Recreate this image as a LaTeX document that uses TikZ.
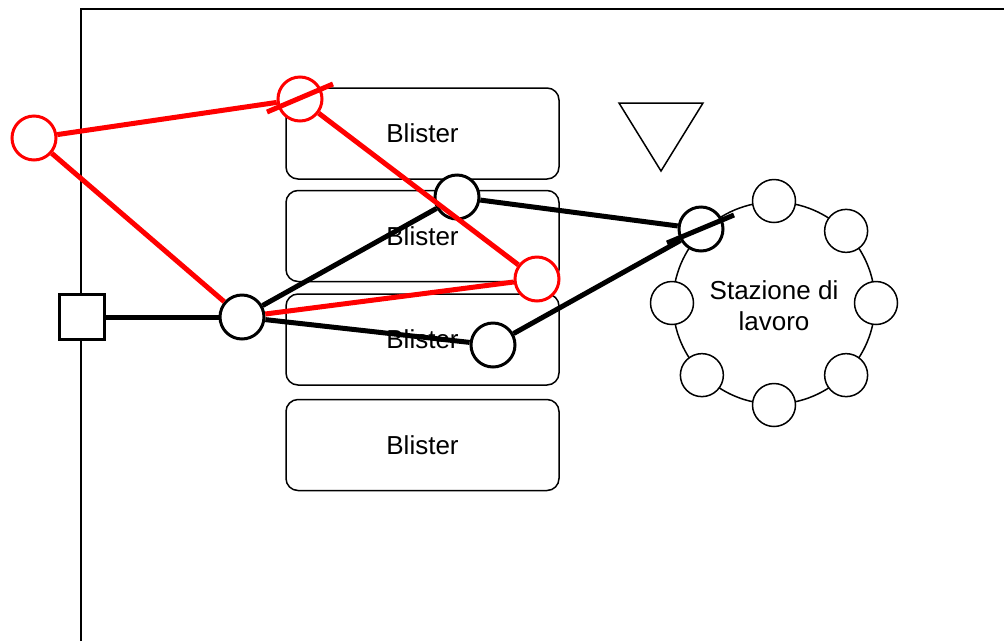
\documentclass[tikz,border=0pt]{standalone}
\usepackage{fontspec}
\setmainfont{Liberation Sans}
\usetikzlibrary{calc}
\begin{document}
\begin{tikzpicture}[x=1pt,y=-1pt,
  blister/.style={draw, line width=1.5pt, rounded corners=12pt,
    minimum width=273pt, minimum height=91pt, inner sep=0pt,
    font=\fontsize{26}{31}\selectfont},
  joint/.style={circle, draw, line width=3pt, fill=white,
    minimum size=44pt, inner sep=0pt},
  redjoint/.style={joint, draw=red},
  seat/.style={circle, draw, line width=1.5pt, fill=white,
    minimum size=43pt, inner sep=0pt},
  endbox/.style={draw, line width=3pt, fill=white,
    minimum size=45pt, inner sep=0pt},
  link/.style={line width=5pt},
  redlink/.style={link, draw=red},
  thin/.style={line width=1.5pt},
  label/.style={align=center, font=\fontsize{26}{31}\selectfont},
]
\useasboundingbox (0,0) rectangle (1004,641);

% frame
\draw[line width=2pt] (81,641) -- (81,9) -- (1004,9);

% blister trays
\node[blister] (b1) at (422.5,133.5) {Blister};
\node[blister] (b2) at (422.5,236) {Blister};
\node[blister] (b3) at (422.5,339.5) {Blister};
\node[blister] (b4) at (422.5,445) {Blister};

% work station
\coordinate (c) at (774,303);
\draw[thin] (c) circle[radius=101pt];
\node[label] (ws) at (774,306) {Stazione di\\lavoro};
\foreach \a in {90,45,0,-45,-90,-135,180}
  \node[seat] (s\a) at ($(c)+(\a:102pt)$) {};

% feeder
\draw[thin] (619,103) -- (703,103) -- (661,171) -- cycle;

% black arm
\node[endbox] (base) at (82,317) {};
\node[joint] (hub) at (242,317) {};
\node[joint] (j1) at (457,197) {};
\node[joint] (j2) at (493,345) {};
\node[joint] (port) at (701,229) {};
\draw[link] (base) -- (hub);
\draw[link] (hub) -- (j1);
\draw[link] (hub) -- (j2);
\draw[link] (j1) -- (port);
\draw[link] (j2) -- (port);
\coordinate (pa) at ($(port)+(-34,14)$);
\coordinate (pb) at ($(port)+(33,-14)$);
\draw[link] (pa) -- (pb);

% red arm
\node[redjoint] (r1) at (34,138) {};
\node[redjoint] (r2) at (300,99) {};
\node[redjoint] (r3) at (537,279) {};
\draw[redlink] (r1) -- (r2);
\draw[redlink] (r1) -- (hub);
\draw[redlink] (r2) -- (r3);
\draw[redlink] (hub) -- (r3);
\coordinate (ra) at ($(r2)+(-33,13)$);
\coordinate (rb) at ($(r2)+(33,-15)$);
\draw[redlink] (ra) -- (rb);
\end{tikzpicture}
\end{document}
